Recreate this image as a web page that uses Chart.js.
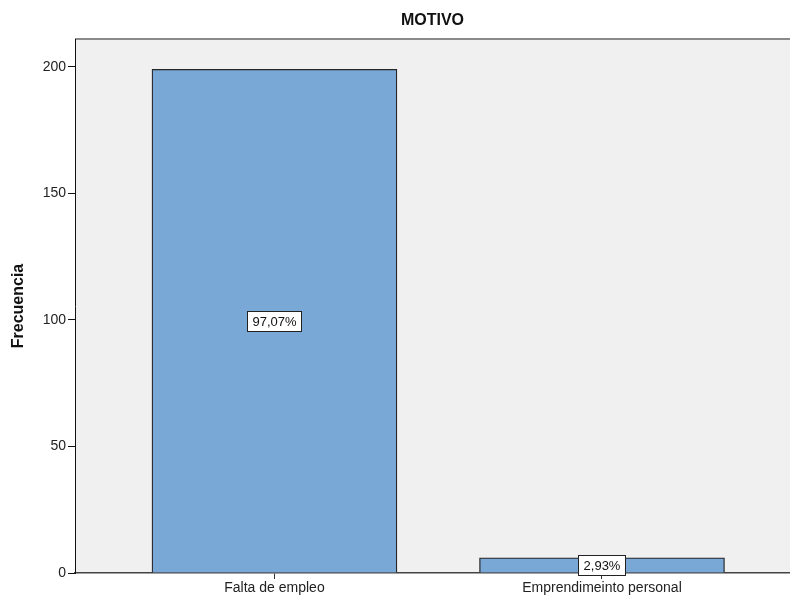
<!DOCTYPE html>
<html>
<head>
<meta charset="utf-8">
<script src="https://cdn.jsdelivr.net/npm/chart.js@4/dist/chart.umd.min.js"></script>
<style>
  body { margin: 0; background: #fff; }
  #wrap { width: 790px; height: 599px; }
</style>
</head>
<body>
<div id="wrap"><canvas id="myChart"></canvas></div>
<script>
const categorias = ['Falta de empleo', 'Emprendimeinto personal'];
const frecuencias = [199, 6];
const porcentajes = ['97,07%', '2,93%'];
const yTicks = [0, 50, 100, 150, 200];

const FONT = "'Liberation Sans', Arial, sans-serif";

// fondo gris del area del grafico y linea superior
const fondoPlugin = {
  id: 'fondo',
  beforeDraw(chart) {
    const a = chart.chartArea;
    const ctx = chart.ctx;
    ctx.save();
    ctx.fillStyle = '#f0f0f0';
    ctx.fillRect(a.left, a.top, a.right - a.left, a.bottom - a.top);
    ctx.strokeStyle = '#8a8a8a';
    ctx.lineWidth = 2;
    ctx.beginPath();
    ctx.moveTo(a.left, a.top);
    ctx.lineTo(a.right, a.top);
    ctx.stroke();
    ctx.restore();
  }
};

// etiquetas de porcentaje, titulo y titulo del eje y
const etiquetasPlugin = {
  id: 'etiquetas',
  afterDatasetsDraw(chart) {
    const ctx = chart.ctx;
    const x = chart.scales.x, y = chart.scales.y;
    const a = chart.chartArea;
    ctx.save();
    ctx.font = '13px ' + FONT;
    ctx.textAlign = 'center';
    ctx.textBaseline = 'middle';
    frecuencias.forEach((v, i) => {
      const cx = x.getPixelForValue(i + 1);
      const cy = y.getPixelForValue(v / 2);
      const w = Math.round(ctx.measureText(porcentajes[i]).width + 10);
      const h = 20;
      const bx = Math.round(cx - w / 2) + 0.5, by = Math.round(cy - h / 2) + 0.5;
      ctx.fillStyle = '#fff';
      ctx.fillRect(bx, by, w, h);
      ctx.strokeStyle = '#222';
      ctx.lineWidth = 1;
      ctx.strokeRect(bx, by, w, h);
      ctx.fillStyle = '#111';
      ctx.fillText(porcentajes[i], cx, cy + 1);
    });

    ctx.font = 'bold 16px ' + FONT;
    ctx.fillStyle = '#111';
    ctx.fillText('MOTIVO', (a.left + a.right) / 2, 21);

    ctx.translate(19, (a.top + a.bottom) / 2);
    ctx.rotate(-Math.PI / 2);
    ctx.fillText('Frecuencia', 0, 0);
    ctx.restore();
  }
};

const ctx = document.getElementById('myChart').getContext('2d');

new Chart(ctx, {
  type: 'bar',
  data: {
    datasets: [{
      label: 'Frecuencia',
      data: categorias.map((c, i) => ({ x: i + 1, y: frecuencias[i] })),
      backgroundColor: 'rgb(121,168,214)',
      borderColor: '#262626',
      borderWidth: 1.3,
      barThickness: 245
    }]
  },
  options: {
    responsive: true,
    maintainAspectRatio: false,
    animation: false,
    layout: { padding: { top: 39 } },
    plugins: {
      legend: { display: false },
      tooltip: { enabled: false },
      title: { display: false }
    },
    scales: {
      x: {
        type: 'linear',
        offset: false,
        min: 0.391,
        max: 2.574,
        afterBuildTicks(scale) {
          scale.ticks = categorias.map((c, i) => ({ value: i + 1 }));
        },
        afterFit(scale) { scale.height = 26; },
        ticks: {
          callback: (v) => categorias[v - 1],
          color: '#222',
          font: { family: FONT, size: 14 },
          padding: 1,
          maxRotation: 0,
          autoSkip: false
        },
        grid: { offset: false, drawOnChartArea: false, tickLength: 6, color: '#333' },
        border: { display: true, color: '#444', width: 1.5 }
      },
      y: {
        min: 0,
        max: 211,
        afterBuildTicks(scale) {
          scale.ticks = yTicks.map(v => ({ value: v }));
        },
        afterFit(scale) { scale.width = 75; },
        ticks: {
          color: '#222',
          font: { family: FONT, size: 14 },
          padding: 2
        },
        grid: { drawOnChartArea: false, tickLength: 7, color: '#111' },
        border: { display: true, color: '#111', width: 1 }
      }
    }
  },
  plugins: [fondoPlugin, etiquetasPlugin]
});
</script>
</body>
</html>
